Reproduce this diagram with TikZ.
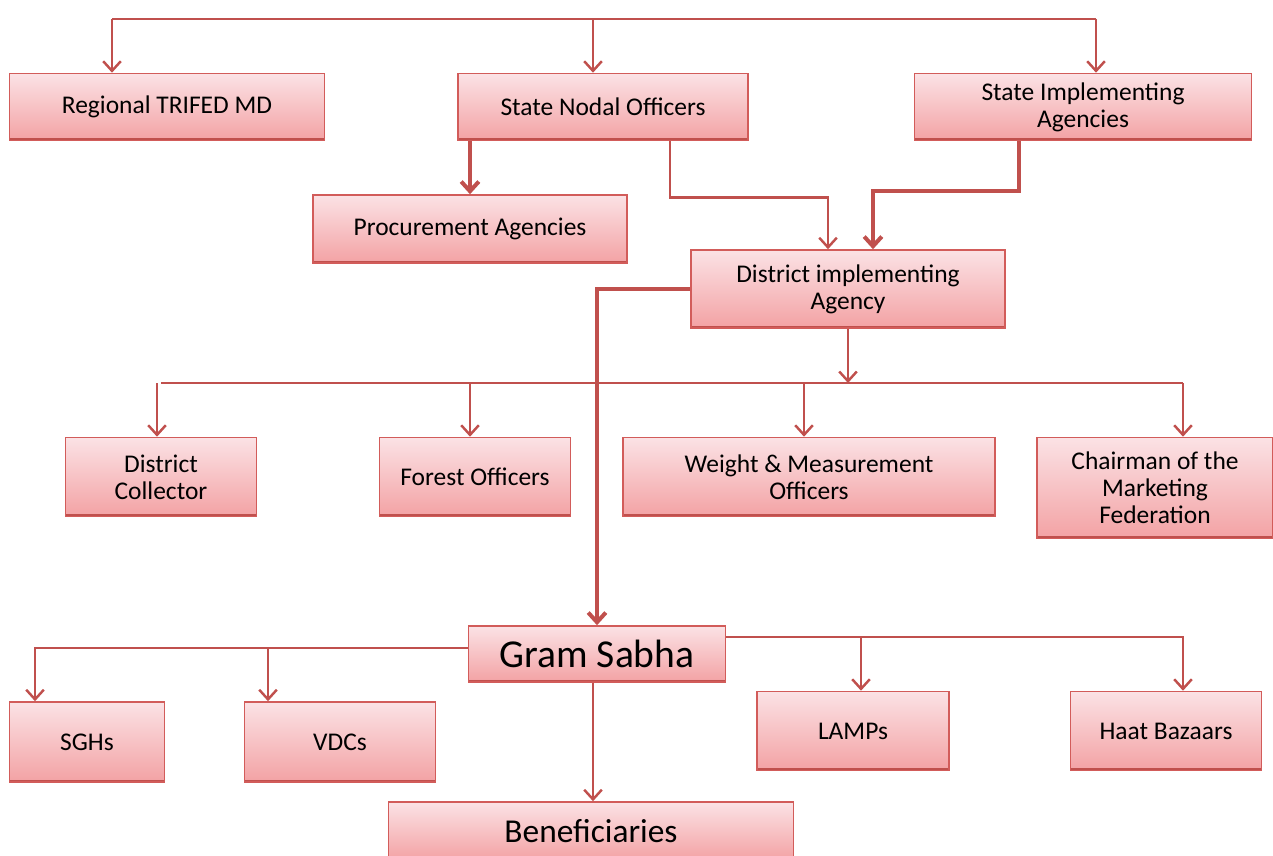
\documentclass[tikz,border=0pt]{standalone}
\usepackage{fontspec}
\setmainfont{Carlito}
\usetikzlibrary{
		calc,
		positioning,
		arrows.meta
	}
\definecolor{boxtop}{RGB}{251,226,229}
\definecolor{boxbot}{RGB}{243,162,164}
\definecolor{boxline}{RGB}{210,92,90}
\definecolor{linkred}{RGB}{192,80,77}
\tikzset{
		>={Straight Barb[length=5.5pt,width=10pt]},
		box/.style={draw=boxline, line width=0.9pt, top color=boxtop, bottom color=boxbot,
			align=center, inner sep=2pt, font=\fontsize{14.5}{15.3}\selectfont,
			path picture={\draw[linkred, line width=2.4pt] (path picture bounding box.south west) -- (path picture bounding box.south east);}},
		link/.style={draw=linkred, line width=1.4pt},
		thick link/.style={draw=linkred, line width=2.3pt}
	}

\begin{document}
\begin{tikzpicture}[x=0.02cm, y=-0.02cm]
		\useasboundingbox (0,0) rectangle (1273,855);
		% top level
		\node[box, minimum width=6.3cm, minimum height=1.34cm] (rtm) at (167,107) {Regional TRIFED MD};
		\node[box, minimum width=5.8cm, minimum height=1.34cm] (sno) at (603,107) {State Nodal Officers};
		\node[box, minimum width=6.74cm, minimum height=1.34cm] (sia) at (1083,107) {State Implementing\\Agencies};
		\node[box, minimum width=6.28cm, minimum height=1.36cm] (pra) at (470,229) {Procurement Agencies};
		\node[box, minimum width=6.28cm, minimum height=1.56cm] (dia) at (848,289) {District implementing\\Agency};
		% district level
		\node[box, minimum width=3.82cm, minimum height=1.58cm] (dc) at (161,477) {District\\Collector};
		\node[box, minimum width=3.82cm, minimum height=1.58cm] (fo) at (475,477) {Forest Officers};
		\node[box, minimum width=7.44cm, minimum height=1.58cm] (wmo) at (809,477) {Weight \& Measurement\\Officers};
		\node[box, minimum width=4.72cm, minimum height=2.02cm] (cmf) at (1155,488) {Chairman of the\\Marketing\\Federation};
		% village level
		\node[box, minimum width=5.14cm, minimum height=1.12cm, font=\fontsize{22.5}{24}\selectfont] (gs) at (597,654) {Gram Sabha};
		\node[box, minimum width=3.1cm, minimum height=1.6cm] (sgh) at (87,742) {SGHs};
		\node[box, minimum width=3.82cm, minimum height=1.6cm] (vdc) at (340,742) {VDCs};
		\node[box, minimum width=3.84cm, minimum height=1.58cm] (lmp) at (853,731) {LAMPs};
		\node[box, minimum width=3.82cm, minimum height=1.58cm] (hb) at (1166,731) {Haat Bazaars};
		\node[box, minimum width=8.1cm, minimum height=1.16cm, font=\fontsize{19}{21}\selectfont] (ben) at (591,831) {Beneficiaries};

		% top bus
		\coordinate (tl) at (112,19);
		\coordinate (tr) at (1096,19);
		\draw[link] (tl) -- (tr);
		\draw[link,->] (tl) -- (tl |- rtm.north);
		\draw[link,->] ([xshift=-0.2cm]sno.north |- tl) -- ([xshift=-0.2cm]sno.north);
		\draw[link,->] (tr) -- (tr |- sia.north);

		\draw[thick link,->] (sno.south -| pra.north) -- (pra.north);
		\draw[link,->] ([xshift=1.34cm]sno.south) -- ++(0,56) -| ([xshift=-0.4cm]dia.north);
		\draw[thick link,->] ([xshift=-1.28cm]sia.south) -- ++(0,50) -| ([xshift=0.5cm]dia.north);

		% district bus
		\coordinate (db) at (848,383);
		\draw[link,->] (dia.south) -- (db);
		\draw[link] (dc.north |- db) -- ([xshift=0.56cm]cmf.north |- db);
		\draw[link,->] ([xshift=-0.08cm]dc.north |- db) -- ([xshift=-0.08cm]dc.north);
		\draw[link,->] ([xshift=-0.1cm]fo.north |- db) -- ([xshift=-0.1cm]fo.north);
		\draw[link,->] ([xshift=-0.1cm]wmo.north |- db) -- ([xshift=-0.1cm]wmo.north);
		\draw[link,->] ([xshift=0.56cm]cmf.north |- db) -- ([xshift=0.56cm]cmf.north);

		\draw[thick link,->] (dia.west) -| (gs.north);

		% village bus
		\coordinate (gl) at ([yshift=0.12cm]gs.west);
		\coordinate (gr) at ([yshift=0.34cm]gs.east);
		\draw[link,->] (gl) -| ([xshift=-1.04cm]sgh.north);
		\draw[link,->] ([xshift=-1.44cm]vdc.north |- gl) -- ([xshift=-1.44cm]vdc.north);
		\draw[link,->] (gr) -| ([xshift=0.34cm]hb.north);
		\draw[link,->] ([xshift=0.16cm]lmp.north |- gr) -- ([xshift=0.16cm]lmp.north);
		\draw[link,->] ([xshift=-0.08cm]gs.south) -- ([xshift=-0.08cm]gs.south |- ben.north);
	\end{tikzpicture}
\end{document}
